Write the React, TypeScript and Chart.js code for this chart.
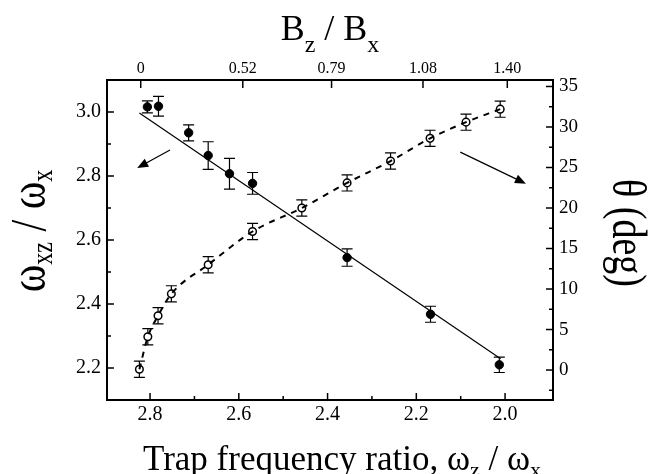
import React, { useEffect, useRef } from "react";
import { Chart, registerables } from "chart.js";
Chart.register(...registerables);

const FONT = '"Liberation Serif", "Times New Roman", serif';

// Filled circles: omega_xz / omega_x (left axis) vs trap frequency ratio
const ratioFilled = [2.806, 2.781, 2.713, 2.669, 2.621, 2.569, 2.356, 2.168, 2.013];
const omegaXZ = [3.016, 3.018, 2.935, 2.864, 2.807, 2.777, 2.545, 2.368, 2.21];
const omegaXZErr = [0.019, 0.031, 0.025, 0.043, 0.048, 0.034, 0.027, 0.025, 0.024];

// Open circles: theta in degrees (right axis)
const ratioOpen = [2.824, 2.805, 2.782, 2.752, 2.669, 2.569, 2.458, 2.356, 2.258, 2.169, 2.088, 2.011];
const thetaDeg = [0.1, 4.1, 6.7, 9.4, 13.0, 17.1, 20.0, 23.1, 25.8, 28.6, 30.6, 32.2];
const thetaErr = [1, 1, 1, 1, 1, 1, 1, 1, 1, 1, 1, 1];

// Linear fit (solid line)
const fitX = [2.824, 2.01];
const fitY = [2.997, 2.229];

// Axis ticks
const bottomTicks = [2.8, 2.6, 2.4, 2.2, 2.0];
const bottomTickLabels = ["2.8", "2.6", "2.4", "2.2", "2.0"];
const bottomMinorTicks = [2.7, 2.5, 2.3, 2.1];
const topTickPositions = [2.821, 2.591, 2.391, 2.185, 1.995];
const topTickLabels = ["0", "0.52", "0.79", "1.08", "1.40"];
const leftTicks = [2.2, 2.4, 2.6, 2.8, 3.0];
const leftTickLabels = ["2.2", "2.4", "2.6", "2.8", "3.0"];
const leftMinorTicks = [2.3, 2.5, 2.7, 2.9];
const rightTicks = [0, 5, 10, 15, 20, 25, 30, 35];
const rightTickLabels = ["0", "5", "10", "15", "20", "25", "30", "35"];
const rightMinorTicks = [-2.5, 2.5, 7.5, 12.5, 17.5, 22.5, 27.5, 32.5];

// Arrows (data coordinates): [x1, y1, x2, y2]
const leftArrow = [2.755, 2.881, 2.829, 2.825]; // left axis
const rightArrow = [2.101, 26.9, 1.953, 23.0]; // right axis

type Part = [string, number, number];

function drawRich(ctx: CanvasRenderingContext2D, parts: Part[], x: number, y: number, align: "left" | "center") {
  let total = 0;
  const widths = parts.map((p) => {
    ctx.font = `${p[1]}px ${FONT}`;
    const w = ctx.measureText(p[0]).width;
    total += w;
    return w;
  });
  let cx = align === "center" ? x - total / 2 : x;
  ctx.textAlign = "left";
  ctx.textBaseline = "alphabetic";
  parts.forEach((p, i) => {
    ctx.font = `${p[1]}px ${FONT}`;
    ctx.fillText(p[0], cx, y + p[2]);
    cx += widths[i];
  });
}

const decorPlugin = {
  id: "decor",
  beforeDatasetsDraw(chart: any) {
    const ctx: CanvasRenderingContext2D = chart.ctx;
    const x = chart.scales.x;
    const y = chart.scales.y;
    const y2 = chart.scales.y2;
    const cap = 5.5;
    ctx.save();
    ctx.strokeStyle = "#000";
    ctx.lineWidth = 1.2;
    const bar = (px: number, t: number, b: number) => {
      ctx.beginPath();
      ctx.moveTo(px, t);
      ctx.lineTo(px, b);
      ctx.moveTo(px - cap, t);
      ctx.lineTo(px + cap, t);
      ctx.moveTo(px - cap, b);
      ctx.lineTo(px + cap, b);
      ctx.stroke();
    };
    ratioFilled.forEach((xv, i) => {
      bar(
        x.getPixelForValue(xv),
        y.getPixelForValue(omegaXZ[i] + omegaXZErr[i]),
        y.getPixelForValue(omegaXZ[i] - omegaXZErr[i])
      );
    });
    ratioOpen.forEach((xv, i) => {
      bar(
        x.getPixelForValue(xv),
        y2.getPixelForValue(thetaDeg[i] + thetaErr[i]),
        y2.getPixelForValue(thetaDeg[i] - thetaErr[i])
      );
    });
    ctx.restore();
  },
  afterDraw(chart: any) {
    const ctx: CanvasRenderingContext2D = chart.ctx;
    const a = chart.chartArea;
    const x = chart.scales.x;
    const y = chart.scales.y;
    const y2 = chart.scales.y2;
    ctx.save();
    ctx.strokeStyle = "#000";
    ctx.fillStyle = "#000";
    ctx.lineWidth = 1.5;
    const seg = (x1: number, y1: number, x2: number, y2v: number) => {
      ctx.beginPath();
      ctx.moveTo(x1, y1);
      ctx.lineTo(x2, y2v);
      ctx.stroke();
    };
    // inward ticks
    bottomTicks.forEach((v) => {
      const p = x.getPixelForValue(v);
      seg(p, a.bottom, p, a.bottom - 7);
    });
    bottomMinorTicks.forEach((v) => {
      const p = x.getPixelForValue(v);
      seg(p, a.bottom, p, a.bottom - 4);
    });
    topTickPositions.forEach((v) => {
      const p = x.getPixelForValue(v);
      seg(p, a.top, p, a.top + 8);
    });
    leftTicks.forEach((v) => {
      const p = y.getPixelForValue(v);
      seg(a.left, p, a.left + 7, p);
    });
    leftMinorTicks.forEach((v) => {
      const p = y.getPixelForValue(v);
      seg(a.left, p, a.left + 4, p);
    });
    rightTicks.forEach((v) => {
      const p = y2.getPixelForValue(v);
      seg(a.right, p, a.right - 7, p);
    });
    rightMinorTicks.forEach((v) => {
      const p = y2.getPixelForValue(v);
      seg(a.right, p, a.right - 4, p);
    });

    // arrows
    const arrow = (x1: number, y1: number, x2: number, y2v: number) => {
      const dx = x2 - x1;
      const dy = y2v - y1;
      const len = Math.hypot(dx, dy);
      const ux = dx / len;
      const uy = dy / len;
      const hl = 11;
      const hw = 4.5;
      ctx.lineWidth = 1.2;
      seg(x1, y1, x2 - ux * hl * 0.8, y2v - uy * hl * 0.8);
      ctx.beginPath();
      ctx.moveTo(x2, y2v);
      ctx.lineTo(x2 - ux * hl - uy * hw, y2v - uy * hl + ux * hw);
      ctx.lineTo(x2 - ux * hl + uy * hw, y2v - uy * hl - ux * hw);
      ctx.closePath();
      ctx.fill();
    };
    arrow(
      x.getPixelForValue(leftArrow[0]),
      y.getPixelForValue(leftArrow[1]),
      x.getPixelForValue(leftArrow[2]),
      y.getPixelForValue(leftArrow[3])
    );
    arrow(
      x.getPixelForValue(rightArrow[0]),
      y2.getPixelForValue(rightArrow[1]),
      x.getPixelForValue(rightArrow[2]),
      y2.getPixelForValue(rightArrow[3])
    );

    // axis titles
    const cx = (a.left + a.right) / 2;
    drawRich(
      ctx,
      [
        ["B", 36, 0],
        ["z", 24, 12],
        [" / ", 36, 0],
        ["B", 36, 0],
        ["x", 24, 12],
      ],
      cx,
      40,
      "center"
    );
    drawRich(
      ctx,
      [
        ["Trap frequency ratio, \u03C9", 35, 0],
        ["z", 22, 7],
        [" / \u03C9", 35, 0],
        ["x", 22, 7],
      ],
      143,
      470,
      "left"
    );
    // left title rotated
    ctx.save();
    ctx.translate(45, 231);
    ctx.rotate(-Math.PI / 2);
    ctx.scale(1, 1.2);
    drawRich(
      ctx,
      [
        ["\u03C9", 42, 0],
        ["xz", 24, 6],
        [" / \u03C9", 42, 0],
        ["x", 24, 6],
      ],
      0,
      0,
      "center"
    );
    ctx.restore();
    // right title rotated
    ctx.save();
    ctx.translate(613, 233);
    ctx.rotate(Math.PI / 2);
    ctx.scale(1, 1.28);
    drawRich(ctx, [["\u03B8 (deg)", 38, 0]], 0, 0, "center");
    ctx.restore();
    ctx.restore();
  },
};

const tickFont = (size: number) => ({ family: FONT, size });

export default function App() {
  const ref = useRef<HTMLCanvasElement>(null);
  useEffect(() => {
    document.body.style.margin = "0";
    const canvas = ref.current!;
    const chart = new Chart(canvas, {
      type: "scatter",
      data: {
        datasets: [
          {
            label: "fit",
            data: fitX.map((v, i) => ({ x: v, y: fitY[i] })),
            showLine: true,
            borderColor: "#000",
            borderWidth: 1.2,
            pointRadius: 0,
            xAxisID: "x",
            yAxisID: "y",
          },
          {
            label: "theta curve",
            data: ratioOpen.map((v, i) => ({ x: v, y: thetaDeg[i] })),
            showLine: true,
            borderColor: "#000",
            borderWidth: 2,
            borderDash: [6, 6],
            cubicInterpolationMode: "monotone",
            pointRadius: 0,
            xAxisID: "x",
            yAxisID: "y2",
          },
          {
            label: "omega_xz / omega_x",
            data: ratioFilled.map((v, i) => ({ x: v, y: omegaXZ[i] })),
            pointRadius: 4.2,
            pointBackgroundColor: "#000",
            pointBorderColor: "#000",
            pointBorderWidth: 1,
            xAxisID: "x",
            yAxisID: "y",
          },
          {
            label: "theta",
            data: ratioOpen.map((v, i) => ({ x: v, y: thetaDeg[i] })),
            pointRadius: 3.8,
            pointBackgroundColor: "#fff",
            pointBorderColor: "#000",
            pointBorderWidth: 1.5,
            xAxisID: "x",
            yAxisID: "y2",
          },
        ] as any,
      },
      options: {
        responsive: false,
        animation: false,
        layout: { padding: 0 },
        plugins: { legend: { display: false }, tooltip: { enabled: false } },
        scales: {
          x: {
            type: "linear",
            position: "bottom",
            reverse: true,
            min: 1.892,
            max: 2.897,
            afterBuildTicks: (s: any) => {
              s.ticks = bottomTicks.map((v) => ({ value: v }));
            },
            afterFit: (s: any) => {
              s.height = 74;
            },
            ticks: {
              callback: (_v: any, i: number) => bottomTickLabels[i],
              font: tickFont(20),
              color: "#000",
              padding: 3,
              maxRotation: 0,
              autoSkip: false,
            },
            grid: { drawOnChartArea: false, drawTicks: false },
            border: { color: "#000", width: 2 },
          },
          x2: {
            type: "linear",
            position: "top",
            reverse: true,
            min: 1.892,
            max: 2.897,
            afterBuildTicks: (s: any) => {
              s.ticks = topTickPositions.map((v) => ({ value: v }));
            },
            afterFit: (s: any) => {
              s.height = 80;
            },
            ticks: {
              callback: (_v: any, i: number) => topTickLabels[i],
              font: tickFont(16),
              color: "#000",
              padding: 2,
              maxRotation: 0,
              autoSkip: false,
            },
            grid: { drawOnChartArea: false, drawTicks: false },
            border: { color: "#000", width: 2 },
          },
          y: {
            type: "linear",
            position: "left",
            min: 2.1,
            max: 3.1,
            afterBuildTicks: (s: any) => {
              s.ticks = leftTicks.map((v) => ({ value: v }));
            },
            afterFit: (s: any) => {
              s.width = 107;
            },
            ticks: {
              callback: (_v: any, i: number) => leftTickLabels[i],
              font: tickFont(20),
              color: "#000",
              padding: 6,
              autoSkip: false,
            },
            grid: { drawOnChartArea: false, drawTicks: false },
            border: { color: "#000", width: 2 },
          },
          y2: {
            type: "linear",
            position: "right",
            min: -3.7,
            max: 35.8,
            afterBuildTicks: (s: any) => {
              s.ticks = rightTicks.map((v) => ({ value: v }));
            },
            afterFit: (s: any) => {
              s.width = 112;
            },
            ticks: {
              callback: (_v: any, i: number) => rightTickLabels[i],
              font: tickFont(19),
              color: "#000",
              padding: 6,
              autoSkip: false,
            },
            grid: { drawOnChartArea: false, drawTicks: false },
            border: { color: "#000", width: 2 },
          },
        },
      } as any,
      plugins: [decorPlugin],
    });
    return () => chart.destroy();
  }, []);
  return (
    <div style={{ width: 665, height: 474 }}>
      <canvas ref={ref} width={665} height={474} style={{ display: "block" }} />
    </div>
  );
}
